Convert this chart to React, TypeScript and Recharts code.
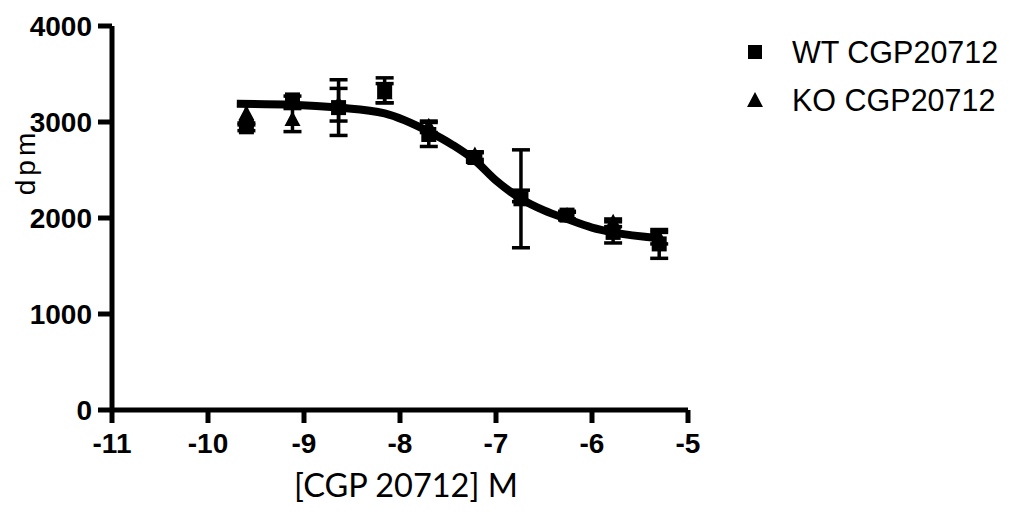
import { ComposedChart, Scatter, Line, XAxis, YAxis, ErrorBar, Label } from "recharts";

// log[CGP 20712] (M)
const logConc = [-9.6, -9.12, -8.64, -8.16, -7.7, -7.22, -6.74, -6.26, -5.78, -5.3];

const wtDpm = [2950, 3230, 3150, 3330, 2870, 2630, 2200, 2030, 1850, 1730];
const wtSem = [40, 40, 290, 130, 125, 50, 510, 40, 110, 150];

const koDpm = [3080, 3020, 3180, 3300, 2950, 2650, 2230, 2020, 1950, 1790];
const koSem = [110, 120, 170, 100, 60, 40, 60, 40, 40, 60];

// fitted curve
const fitX = [-9.7, -9.12, -8.64, -8.16, -7.7, -7.45, -7.22, -7.0, -6.74, -6.5, -6.26, -6.0, -5.78, -5.3];
const fitY = [3190, 3180, 3150, 3090, 2900, 2760, 2600, 2390, 2200, 2080, 1990, 1900, 1850, 1790];

const xTicks = [-11, -10, -9, -8, -7, -6, -5];
const yTicks = [0, 1000, 2000, 3000, 4000];

const wtData = logConc.map((x, i) => ({ x, y: wtDpm[i], err: wtSem[i] }));
const koData = logConc.map((x, i) => ({ x, y: koDpm[i], err: koSem[i] }));
const fitData = fitX.map((x, i) => ({ x, y: fitY[i] }));

const FONT = "'Liberation Sans', Arial, sans-serif";
const tickStyle = { fontSize: 28, fontWeight: 700, fill: "#000", fontFamily: FONT };

const Square = (p: any) => (
  <rect x={p.cx - 7.5} y={p.cy - 7.5} width={15} height={15} fill="#000" />
);
const Triangle = (p: any) => (
  <polygon
    points={`${p.cx},${p.cy - 9} ${p.cx - 8},${p.cy + 6} ${p.cx + 8},${p.cy + 6}`}
    fill="#000"
  />
);

export default function App() {
  return (
    <div style={{ position: "relative", width: 1000, height: 513 }}>
      <ComposedChart
        width={1000}
        height={513}
        margin={{ top: 18, right: 320, left: 0, bottom: 51 }}
      >
        <XAxis
          type="number"
          dataKey="x"
          domain={[-11, -5]}
          ticks={xTicks}
          interval={0}
          height={60}
          tick={tickStyle}
          tickSize={13}
          tickMargin={10}
          axisLine={{ stroke: "#000", strokeWidth: 5 }}
          tickLine={{ stroke: "#000", strokeWidth: 5 }}
        >
          <Label
            content={(props: any) => {
              const vb = props.viewBox;
              return (
                <text
                  x={vb.x + vb.width / 2 + 6}
                  y={476}
                  textAnchor="middle"
                  dominantBaseline="central"
                  fontSize={32.5}
                  fontFamily="Lato, 'Open Sans', sans-serif"
                  fill="#000"
                >
                  [CGP 20712] M
                </text>
              );
            }}
          />
        </XAxis>
        <YAxis
          type="number"
          dataKey="y"
          domain={[0, 4000]}
          ticks={yTicks}
          interval={0}
          width={104}
          tick={tickStyle}
          tickSize={14}
          tickMargin={6}
          axisLine={{ stroke: "#000", strokeWidth: 5 }}
          tickLine={{ stroke: "#000", strokeWidth: 5 }}
        >
          <Label
            content={() => (
              <text
                x={17}
                y={154}
                transform="rotate(-90, 17, 154)"
                textAnchor="middle"
                dominantBaseline="central"
                fontSize={28}
                letterSpacing={4}
                fontFamily={FONT}
                fill="#000"
              >
                dpm
              </text>
            )}
          />
        </YAxis>
        <Line
          data={fitData}
          dataKey="y"
          type="monotone"
          stroke="#000"
          strokeWidth={8}
          dot={false}
          activeDot={false}
          isAnimationActive={false}
        />
        <Scatter
          name="KO CGP20712"
          data={koData}
          dataKey="y"
          shape={Triangle}
          isAnimationActive={false}
        >
          <ErrorBar dataKey="err" direction="y" width={9} stroke="#000" strokeWidth={3.5} />
        </Scatter>
        <Scatter
          name="WT CGP20712"
          data={wtData}
          dataKey="y"
          shape={Square}
          isAnimationActive={false}
        >
          <ErrorBar dataKey="err" direction="y" width={9} stroke="#000" strokeWidth={3.5} />
        </Scatter>
      </ComposedChart>

      {/* legend */}
      <svg
        width={1000}
        height={513}
        style={{ position: "absolute", left: 0, top: 0, pointerEvents: "none" }}
      >
        <rect x={740} y={37} width={14} height={14} fill="#000" />
        <text x={784} y={55} fontSize={30.5} fontFamily={FONT} fill="#000">
          WT CGP20712
        </text>
        <polygon points="747,84 739,99 755,99" fill="#000" />
        <text x={784} y={103} fontSize={30.5} fontFamily={FONT} fill="#000">
          KO CGP20712
        </text>
      </svg>
    </div>
  );
}
